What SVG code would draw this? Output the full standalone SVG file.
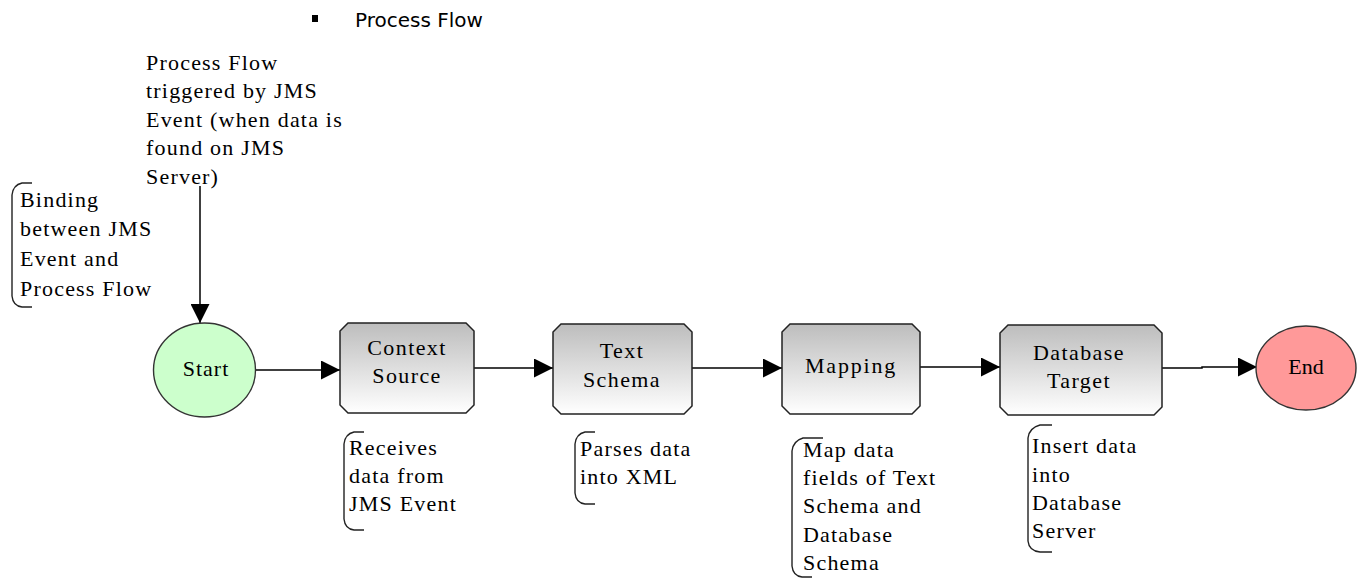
<svg xmlns="http://www.w3.org/2000/svg" width="1364" height="580" viewBox="0 0 1364 580">
<style>
.ann{font-family:'Liberation Serif','Times New Roman',serif;font-size:22px;letter-spacing:1.2px;fill:#000}
.lbl{font-family:'Liberation Serif','Times New Roman',serif;font-size:22px;letter-spacing:1.4px;fill:#000;text-anchor:middle}
.box{stroke:#222;stroke-width:1.5;fill:url(#g)}
.br{fill:none;stroke:#222;stroke-width:1.4}
.conn{fill:none;stroke:#000;stroke-width:1.5}
</style>
<defs>
<linearGradient id="g" x1="0" y1="0" x2="0" y2="1">
<stop offset="0" stop-color="#bdbdbd"/>
<stop offset="1" stop-color="#ffffff"/>
</linearGradient>
<marker id="ah" viewBox="0 0 10 10" refX="10" refY="5" markerWidth="19" markerHeight="19" markerUnits="userSpaceOnUse" orient="auto">
<path d="M0,0 L10,5 L0,10 z" fill="#000"/>
</marker>
</defs>
<rect x="0" y="0" width="1364" height="580" fill="#fff"/>
<g id="title">
<rect x="312" y="15" width="6" height="7" fill="#000"/>
<text x="355" y="27" font-family="DejaVu Sans, Verdana, sans-serif" font-size="20">Process Flow</text>
</g>
<g id="connectors">
<line class="conn" x1="200" y1="186" x2="200" y2="323" marker-end="url(#ah)"/>
<line class="conn" x1="256" y1="370" x2="340" y2="370" marker-end="url(#ah)"/>
<line class="conn" x1="474" y1="368" x2="553" y2="368" marker-end="url(#ah)"/>
<line class="conn" x1="692" y1="368" x2="782" y2="368" marker-end="url(#ah)"/>
<line class="conn" x1="920" y1="367" x2="1000" y2="367" marker-end="url(#ah)"/>
<polyline class="conn" points="1162,368 1202,368 1202,367 1257,367" marker-end="url(#ah)"/>
</g>
<g id="note-trigger">
<text class="ann" x="146" y="70">Process Flow</text>
<text class="ann" x="146" y="98">triggered by JMS</text>
<text class="ann" x="146" y="127">Event (when data is</text>
<text class="ann" x="146" y="155">found on JMS</text>
<text class="ann" x="146" y="184">Server)</text>
</g>
<g id="note-binding">
<path class="br" d="M32,183 L22,183 Q13,185 12,195 L12,296 Q13,306 22,307 L32,307"/>
<text class="ann" x="20" y="207">Binding</text>
<text class="ann" x="20" y="236">between JMS</text>
<text class="ann" x="20" y="266">Event and</text>
<text class="ann" x="20" y="296">Process Flow</text>
</g>
<g id="start">
<ellipse cx="204.5" cy="370" rx="51" ry="47" fill="#ccffcc" stroke="#333" stroke-width="1.4"/>
<text class="lbl" x="206" y="376" style="letter-spacing:1px">Start</text>
</g>
<g id="context-source">
<path class="box" d="M348,323 L466,323 L474,331 L474,405 L466,413 L348,413 L340,405 L340,331 Z"/>
<text class="lbl" x="407" y="355">Context</text>
<text class="lbl" x="407" y="383">Source</text>
</g>
<g id="text-schema">
<path class="box" d="M561,324 L684,324 L692,332 L692,406 L684,414 L561,414 L553,406 L553,332 Z"/>
<text class="lbl" x="622" y="358">Text</text>
<text class="lbl" x="622" y="387">Schema</text>
</g>
<g id="mapping">
<path class="box" d="M790,324 L912,324 L920,332 L920,406 L912,414 L790,414 L782,406 L782,332 Z"/>
<text class="lbl" x="851" y="373" style="letter-spacing:1.8px">Mapping</text>
</g>
<g id="database-target">
<path class="box" d="M1008,325 L1154,325 L1162,333 L1162,407 L1154,415 L1008,415 L1000,407 L1000,333 Z"/>
<text class="lbl" x="1079" y="360">Database</text>
<text class="lbl" x="1079" y="388">Target</text>
</g>
<g id="end">
<ellipse cx="1306" cy="368" rx="50" ry="42" fill="#ff9999" stroke="#333" stroke-width="1.4"/>
<text class="lbl" x="1306" y="374" style="letter-spacing:0px">End</text>
</g>
<g id="note-receives">
<path class="br" d="M364,432 L354,432 Q345,434 344,444 L344,519 Q345,529 354,530 L364,530"/>
<text class="ann" x="349" y="455">Receives</text>
<text class="ann" x="349" y="483">data from</text>
<text class="ann" x="349" y="511">JMS Event</text>
</g>
<g id="note-parses">
<path class="br" d="M595,432 L585,432 Q576,434 575,444 L575,493 Q576,503 585,504 L595,504"/>
<text class="ann" x="580" y="456">Parses data</text>
<text class="ann" x="580" y="484">into XML</text>
</g>
<g id="note-map">
<path class="br" d="M823,438 L803,438 Q793,441 792,451 L792,566 Q793,576 802,577 L812,577"/>
<text class="ann" x="803" y="457">Map data</text>
<text class="ann" x="803" y="485">fields of Text</text>
<text class="ann" x="803" y="513">Schema and</text>
<text class="ann" x="803" y="542">Database</text>
<text class="ann" x="803" y="570">Schema</text>
</g>
<g id="note-insert">
<path class="br" d="M1052,425 L1040,425 Q1029,428 1028,438 L1028,541 Q1029,551 1040,552 L1052,552"/>
<text class="ann" x="1032" y="453">Insert data</text>
<text class="ann" x="1032" y="482">into</text>
<text class="ann" x="1032" y="510">Database</text>
<text class="ann" x="1032" y="538">Server</text>
</g>
</svg>
